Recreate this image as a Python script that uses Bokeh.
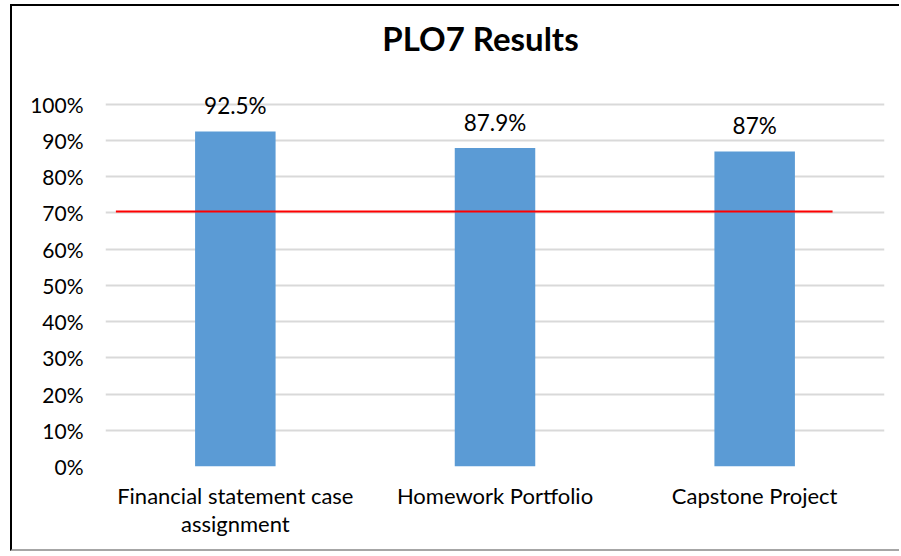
from bokeh.plotting import figure
from bokeh.models import Range1d, FixedTicker, Label, ColumnDataSource
from bokeh.core.properties import value
from bokeh.embed import file_html
from bokeh.resources import INLINE

categories = ["Financial statement case\nassignment", "Homework Portfolio", "Capstone Project"]
results = [92.5, 87.9, 87.0]
result_labels = ["92.5%", "87.9%", "87%"]
target = 70.4
y_ticks = [0, 10, 20, 30, 40, 50, 60, 70, 80, 90, 100]

FONT = "Lato"
pos = [i + 0.5 for i in range(len(categories))]

p = figure(width=889, height=547, output_backend="svg", toolbar_location=None,
           x_range=Range1d(0, 3), y_range=Range1d(0, 127),
           min_border_left=93, min_border_right=17, min_border_top=0, min_border_bottom=87)
p.outline_line_color = None
p.background_fill_color = "white"
p.border_fill_color = "white"

src = ColumnDataSource(dict(x=pos, top=results, lab=result_labels))
p.vbar(x="x", top="top", width=0.31, bottom=0, source=src, fill_color="#5B9BD5", line_color=None)

# target line
p.line(x=[pos[0] - 0.46, pos[-1] + 0.30], y=[target, target], line_color="#FF0000", line_width=2)

p.text(x="x", y="top", text="lab", source=src, text_align="center", text_baseline="middle",
       y_offset=-26, text_font=value(FONT), text_font_size="22.5px", text_color="#000000")

p.yaxis.ticker = FixedTicker(ticks=y_ticks)
p.yaxis.major_label_overrides = {t: f"{t}%" for t in y_ticks}
p.xaxis.ticker = FixedTicker(ticks=pos)
p.xaxis.major_label_overrides = {x: c for x, c in zip(pos, categories)}
for ax in (p.xaxis, p.yaxis):
    ax.axis_line_color = None
    ax.major_tick_line_color = None
    ax.minor_tick_line_color = None
    ax.major_label_text_font = FONT
    ax.major_label_text_color = "#000000"
p.yaxis.major_label_text_font_size = "21px"
p.xaxis.major_label_text_font_size = "22px"
p.xaxis.major_label_text_line_height = 1.05
p.yaxis.major_label_standoff = 16
p.xaxis.major_label_standoff = 9
p.xgrid.grid_line_color = None
p.ygrid.ticker = FixedTicker(ticks=y_ticks)
p.ygrid.grid_line_color = "#D9D9D9"
p.ygrid.grid_line_width = 2

p.add_layout(Label(x=1.444, y=118.4, text="PLO7 Results", text_align="center", text_baseline="middle",
                   text_font=FONT, text_font_size="33px", text_font_style="bold", text_color="#000000"))

p.styles = {"margin-left": "10px", "margin-top": "4px",
            "border-left": "2px solid black", "border-top": "2px solid black",
            "border-bottom": "2px solid #A6A6A6", "border-right": "none"}

open("out.html", "w").write(file_html(p, INLINE))
